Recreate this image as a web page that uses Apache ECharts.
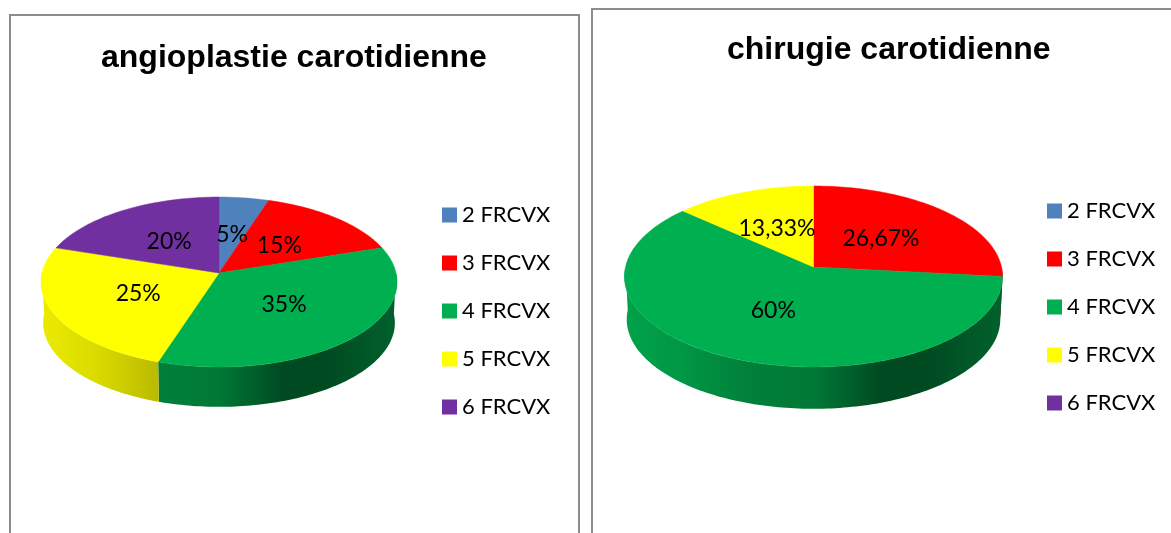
<!DOCTYPE html>
<html>
<head>
<meta charset="utf-8">
<style>html,body{margin:0;padding:0;background:#fff;overflow:hidden}#c{width:1171px;height:533px}</style>
<script src="https://cdn.jsdelivr.net/npm/echarts@6/dist/echarts.min.js"></script>
</head>
<body>
<div id="c"></div>
<script>
const categories = ['2 FRCVX', '3 FRCVX', '4 FRCVX', '5 FRCVX', '6 FRCVX'];
const angioplastieValues = [5, 15, 35, 25, 20];
const chirurgieValues = [0, 26.67, 60, 13.33, 0];
const pieTitles = ['angioplastie carotidienne', 'chirugie carotidienne'];
const sliceColors = ['#4F81BD', '#FF0000', '#00B050', '#FFFF00', '#7030A0'];

const pies = [
  { values: angioplastieValues, cx: 219, cy: 273, b: 177, a: 84, k: 0.106, depth: 41 },
  { values: chirurgieValues, cx: 813.5, cy: 267, b: 188, a: 89.5, k: 0.105, depth: 43 }
];
const shadeStops = [[0, .92], [.15, .86], [.33, .73], [.5, .68], [.68, .42], [.8, .42], [1, .55]];
const rgb = h => [1, 3, 5].map(i => parseInt(h.substr(i, 2), 16));

function project(p, theta, r, squeeze) {
  const u = Math.sin(theta) * r, v = Math.cos(theta) * r, w = 1 + p.k * v;
  return [p.b * squeeze * u / w, -p.a * squeeze * v / w];
}
function arcPoints(from, to) {
  const n = Math.max(2, Math.ceil((to - from) / 0.02)), out = [];
  for (let i = 0; i <= n; i++) out.push(from + (to - from) * i / n);
  return out;
}
function renderSlice(params) {
  const cat = params.seriesIndex, p = pies[params.dataIndex], val = p.values[cat];
  if (!val) return null;
  const total = p.values.reduce((s, x) => s + x, 0);
  const before = p.values.slice(0, cat).reduce((s, x) => s + x, 0);
  const t0 = before / total * 2 * Math.PI, t1 = (before + val) / total * 2 * Math.PI;
  const color = sliceColors[cat], children = [];
  const toXY = q => [p.cx + q[0], p.cy + q[1]];

  const top = [[p.cx, p.cy]].concat(arcPoints(t0, t1).map(t => toXY(project(p, t, 1, 1))));
  children.push({ type: 'polygon', z2: 10, shape: { points: top }, style: { fill: color, stroke: color, lineWidth: 0.5 } });

  const w0 = Math.max(t0, Math.PI / 2), w1 = Math.min(t1, Math.PI * 1.5);
  if (w1 > w0) {
    const ts = arcPoints(w0, w1);
    const upper = ts.map(t => toXY(project(p, t, 1, 1)));
    const lower = ts.map(t => { const q = toXY(project(p, t, 1, 0.988)); q[1] += p.depth; return q; }).reverse();
    const c = rgb(color);
    children.push({
      type: 'polygon', z2: 1, shape: { points: upper.concat(lower) },
      style: {
        fill: {
          type: 'linear', global: true, x: p.cx - p.b, y: 0, x2: p.cx + p.b, y2: 0,
          colorStops: shadeStops.map(s => ({ offset: s[0], color: 'rgb(' + c.map(x => Math.round(x * s[1])).join(',') + ')' }))
        }
      }
    });
  }
  const lp = toXY(project(p, (t0 + t1) / 2, 0.5, 1));
  children.push({
    type: 'text', z2: 20,
    style: { x: lp[0], y: lp[1] + 1, text: String(val).replace('.', ',') + '%', align: 'center', verticalAlign: 'middle',
      fill: '#000', font: '23px Lato' }
  });
  return { type: 'group', children };
}

const chart = echarts.init(document.getElementById('c'), null, { renderer: 'canvas' });
const legendBase = { orient: 'vertical', icon: 'rect', itemWidth: 15, itemHeight: 15, itemGap: 26, padding: 0, selectedMode: false,
  data: categories, textStyle: { fontFamily: 'Lato', fontSize: 22, color: '#000' } };
chart.setOption({
  animation: false,
  backgroundColor: '#fff',
  title: [
    { text: pieTitles[0], left: 101, top: 42, padding: 0, textStyle: { fontFamily: 'Liberation Sans', fontWeight: 'bold', fontSize: 32, color: '#000' } },
    { text: pieTitles[1], left: 727, top: 34, padding: 0, textStyle: { fontFamily: 'Liberation Sans', fontWeight: 'bold', fontSize: 32, color: '#000' } }
  ],
  legend: [
    Object.assign({ left: 442, top: 204 }, legendBase),
    Object.assign({ left: 1047, top: 200 }, legendBase)
  ],
  graphic: [
    { type: 'rect', shape: { x: 10, y: 15, width: 569, height: 560 }, style: { fill: 'none', stroke: '#8c8c8c', lineWidth: 2 }, silent: true },
    { type: 'rect', shape: { x: 592, y: 9, width: 640, height: 560 }, style: { fill: 'none', stroke: '#8c8c8c', lineWidth: 2 }, silent: true }
  ],
  series: categories.map((name, i) => ({
    type: 'custom', name, coordinateSystem: 'none', itemStyle: { color: sliceColors[i] },
    renderItem: renderSlice, silent: true,
    data: pies.map(p => p.values[i])
  }))
});
</script>
</body>
</html>
